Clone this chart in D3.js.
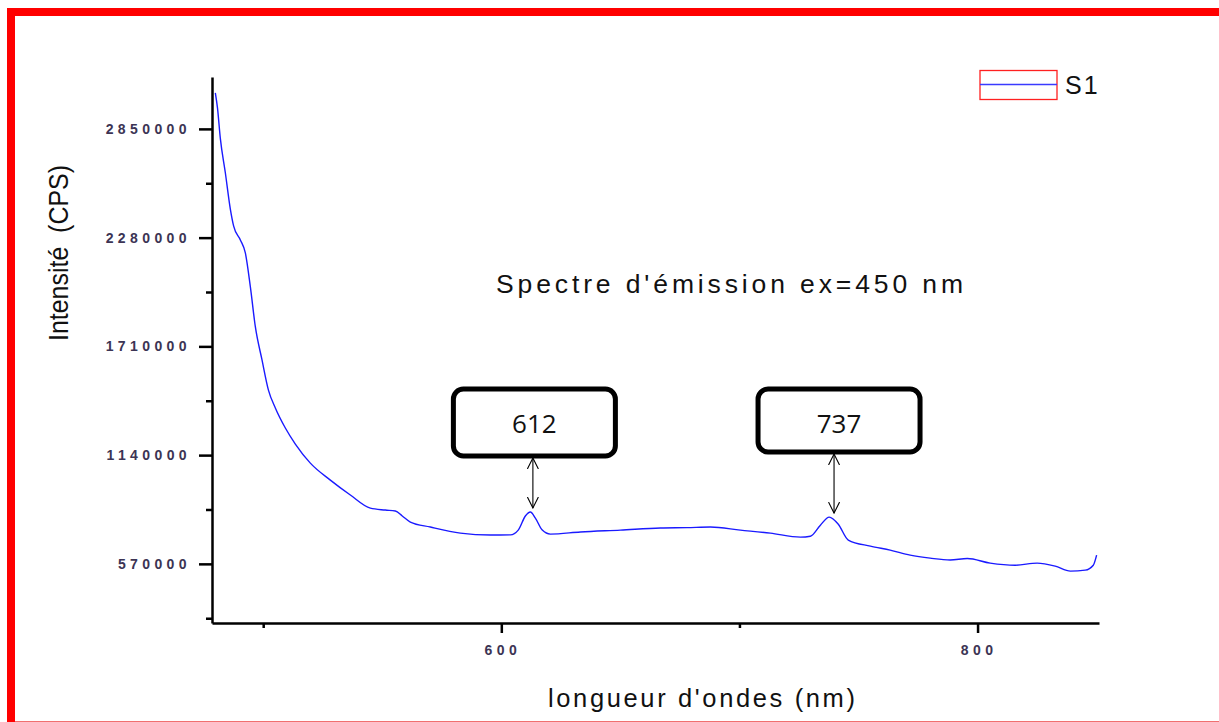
<!DOCTYPE html>
<html>
<head>
<meta charset="utf-8">
<script src="https://cdn.jsdelivr.net/npm/d3@7"></script>
<style>
  body { margin: 0; background: #fff; }
  svg { display: block; font-family: "Liberation Sans", Arial, sans-serif; }
</style>
</head>
<body>
<svg width="1219" height="722"></svg>
<script>
// emission spectrum, values
var wavelengths = [479.9, 480.8, 482, 484.1, 486.2, 487.6, 490.4,
    492.5, 494.6, 496.7, 499.5, 502.2, 505.1, 509.3, 513.5, 519.8, 528.2,
    536.6, 545, 551.3, 555.5, 558.4, 561.8, 570.2, 582.8, 595.4, 603.8,
    607.1, 610.1, 612.2, 614.3, 617.2, 620.6, 633.2, 650, 666.8, 678,
    687.8, 700.4, 713, 725.6, 729.8, 734, 737.7, 741.5, 745.7, 755,
    763.3, 771.7, 780.1, 788.5, 795.7, 805.3, 815.8, 825, 832.6, 839,
    845.2, 848.6, 850];
var intensities = [3039000, 2960000, 2800000, 2620000, 2430000, 2340000, 2268000,
    2200000, 2023000, 1813000, 1639000, 1481000, 1387000, 1282000, 1198000, 1098000, 1009000,
    931000, 862000, 852000, 847000, 821000, 789000, 763000, 731000, 721000, 722000,
    747000, 821000, 842000, 810000, 747000, 726000, 737000, 747000, 758000, 760000,
    763000, 747000, 731000, 710000, 715000, 773000, 815000, 778000, 695000, 663000,
    642000, 616000, 600000, 590000, 598000, 574000, 563000, 574000, 558000, 532000,
    537000, 563000, 616000];

var yMajor = [570000, 1140000, 1710000, 2280000, 2850000];
var yMinor = [285000, 855000, 1425000, 1995000, 2565000];
var xMajor = [600, 800];
var xMinor = [500, 700];

var peaks = [612, 737];
var peakLabels = ["612", "737"];

var svg = d3.select("svg");

// red frame
svg.append("rect").attr("x", 7).attr("y", 8).attr("width", 1212).attr("height", 8).attr("fill", "#ff0000");
svg.append("rect").attr("x", 7).attr("y", 8).attr("width", 8).attr("height", 714).attr("fill", "#ff0000");
svg.append("line").attr("x1", 15).attr("x2", 1219).attr("y1", 721.5).attr("y2", 721.5)
    .attr("stroke", "#f07070").attr("stroke-width", 1);

var x = d3.scaleLinear().domain([478.5, 851]).range([212, 1099]);
var y = d3.scaleLinear().domain([260000, 3122000]).range([623, 77]);

function tickText(sel) {
    sel.attr("font-size", 14).attr("font-weight", "bold")
        .attr("letter-spacing", 4.4).attr("fill", "#3c3454");
}

// y axis
var yAxis = svg.append("g").attr("transform", "translate(212,0)")
    .call(d3.axisLeft(y).tickValues(yMajor).tickSize(13).tickSizeOuter(0).tickPadding(8)
        .tickFormat(d3.format("d")));
yAxis.select(".domain").attr("stroke", "#000").attr("stroke-width", 2.5);
yAxis.selectAll(".tick line").attr("stroke", "#000").attr("stroke-width", 2.5);
yAxis.selectAll(".tick text").call(tickText);
svg.append("g").attr("transform", "translate(212,0)")
    .call(d3.axisLeft(y).tickValues(yMinor).tickSize(6).tickFormat(""))
    .call(function(g) { g.select(".domain").remove(); g.selectAll("line").attr("stroke-width", 2.5); });

// x axis
var xAxis = svg.append("g").attr("transform", "translate(0,623)")
    .call(d3.axisBottom(x).tickValues(xMajor).tickSize(10).tickSizeOuter(0).tickPadding(12));
xAxis.select(".domain").attr("stroke", "#000").attr("stroke-width", 2.5);
xAxis.selectAll(".tick text").call(tickText).attr("dx", "1");
xAxis.selectAll(".tick line").attr("stroke", "#000").attr("stroke-width", 2.5);
svg.append("g").attr("transform", "translate(0,623)")
    .call(d3.axisBottom(x).tickValues(xMinor).tickSize(5).tickFormat(""))
    .call(function(g) { g.select(".domain").remove(); g.selectAll("line").attr("stroke-width", 2.5); });

// axis titles
svg.append("text").attr("x", 548).attr("y", 707).attr("font-size", 25.5)
    .attr("textLength", 307).attr("lengthAdjust", "spacing").attr("fill", "#111")
    .text("longueur d'ondes (nm)");
svg.append("text").attr("transform", "translate(68,341) rotate(-90)").attr("font-size", 27)
    .attr("textLength", 176).attr("lengthAdjust", "spacingAndGlyphs").attr("fill", "#111")
    .style("white-space", "pre")
    .text("Intensité  (CPS)");

// title
svg.append("text").attr("x", 496).attr("y", 292.5).attr("font-size", 26.5)
    .attr("textLength", 467).attr("lengthAdjust", "spacing").attr("fill", "#111")
    .text("Spectre d'émission ex=450 nm");

// spectrum
var line = d3.line()
    .x(function(d, i) { return x(wavelengths[i]); })
    .y(function(d) { return y(d); })
    .curve(d3.curveMonotoneX);
svg.append("path").datum(intensities)
    .attr("d", line)
    .attr("fill", "none").attr("stroke", "#1a1aff").attr("stroke-width", 1.4);

// legend
svg.append("rect").attr("x", 980).attr("y", 70.5).attr("width", 77).attr("height", 29)
    .attr("fill", "none").attr("stroke", "#ff2020").attr("stroke-width", 1.3);
svg.append("line").attr("x1", 980).attr("x2", 1057).attr("y1", 84.5).attr("y2", 84.5)
    .attr("stroke", "#3a3aff").attr("stroke-width", 1.5);
svg.append("text").attr("x", 1065).attr("y", 93.5).attr("font-size", 25).attr("letter-spacing", 2)
    .attr("fill", "#111").text("S1");

// peak annotations
var defs = svg.append("defs");
defs.append("marker").attr("id", "chev").attr("viewBox", "0 0 12 12")
    .attr("refX", 11).attr("refY", 6).attr("markerWidth", 12).attr("markerHeight", 12)
    .attr("markerUnits", "userSpaceOnUse").attr("orient", "auto-start-reverse")
    .append("path").attr("d", "M0,0.5 L11,6 L0,11.5").attr("fill", "none")
    .attr("stroke", "#000").attr("stroke-width", 1.1);

var arrowShift = [3, 6.5], boxShift = [1.5, 5], boxH = [67, 63];
peaks.forEach(function(p, i) {
    var ax = x(p) + arrowShift[i];
    var bx = ax + boxShift[i];
    var k = d3.minIndex(wavelengths, function(w) { return Math.abs(w - p); });
    var peakY = y(intensities[k]);
    svg.append("rect").attr("x", bx - 81).attr("y", 389).attr("width", 162).attr("height", boxH[i])
        .attr("rx", 10).attr("fill", "#fff").attr("stroke", "#000").attr("stroke-width", 5);
    svg.append("text").attr("x", bx).attr("y", 433).attr("text-anchor", "middle")
        .attr("font-size", 26).attr("font-family", "'Open Sans', sans-serif").attr("fill", "#111")
        .text(peakLabels[i]);
    svg.append("line").attr("x1", ax).attr("x2", ax).attr("y1", 391 + boxH[i]).attr("y2", peakY - 4)
        .attr("stroke", "#000").attr("stroke-width", 1.1)
        .attr("marker-start", "url(#chev)").attr("marker-end", "url(#chev)");
});
</script>
</body>
</html>
